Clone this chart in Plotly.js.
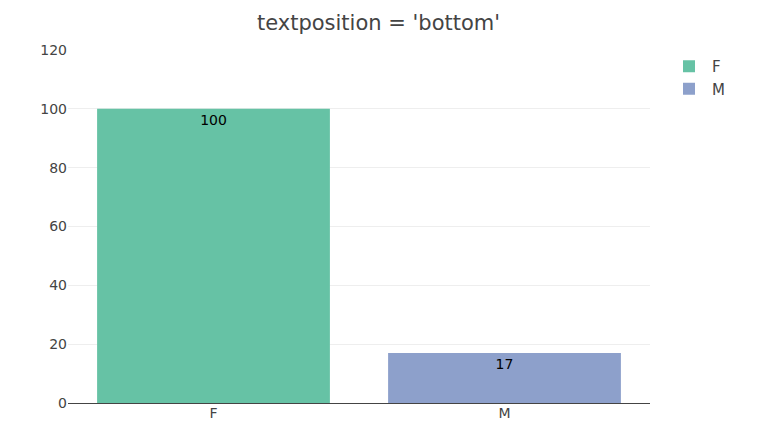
<!DOCTYPE html>
<html>
<head>
<meta charset="utf-8">
<script src="https://cdn.plot.ly/plotly-3.0.1.min.js"></script>
<style>html,body{margin:0;padding:0;background:#fff;}#chart{width:757px;height:434px;}</style>
</head>
<body>
<div id="chart"></div>
<script>
const categories = ['F', 'M'];
const values = [100, 17];
const labels = ['100', '17'];
const colors = ['#66c2a5', '#8da0cb'];
const yTicks = [0, 20, 40, 60, 80, 100, 120];

const traces = categories.map((c, i) => ({
  type: 'bar',
  name: c,
  x: [c],
  y: [values[i]],
  text: [labels[i]],
  textposition: 'inside',
  insidetextanchor: 'end',
  insidetextfont: {color: '#000000', size: 14},
  marker: {color: colors[i]},
  hoverinfo: 'x+y'
}));

const layout = {
  width: 757,
  height: 434,
  font: {family: '"DejaVu Sans", Verdana, sans-serif', size: 14, color: '#444'},
  title: {text: "textposition = 'bottom'", font: {size: 21, color: '#444'}, x: 0.5, xanchor: 'center', y: 0.947, yanchor: 'middle'},
  margin: {l: 68, r: 107, t: 50, b: 31},
  paper_bgcolor: '#fff',
  plot_bgcolor: '#fff',
  bargap: 0.2,
  barmode: 'group',
  xaxis: {type: 'category', showgrid: false, zeroline: false, showline: false, ticks: ''},
  yaxis: {range: [0, 120], tickvals: yTicks, ticktext: yTicks.map(String), gridcolor: '#eee', zeroline: true, zerolinecolor: '#444', zerolinewidth: 1},
  legend: {x: 1.0275, y: 1, font: {size: 15}, itemwidth: 36},
  showlegend: true
};

Plotly.newPlot('chart', traces, layout, {displayModeBar: false});
</script>
</body>
</html>
